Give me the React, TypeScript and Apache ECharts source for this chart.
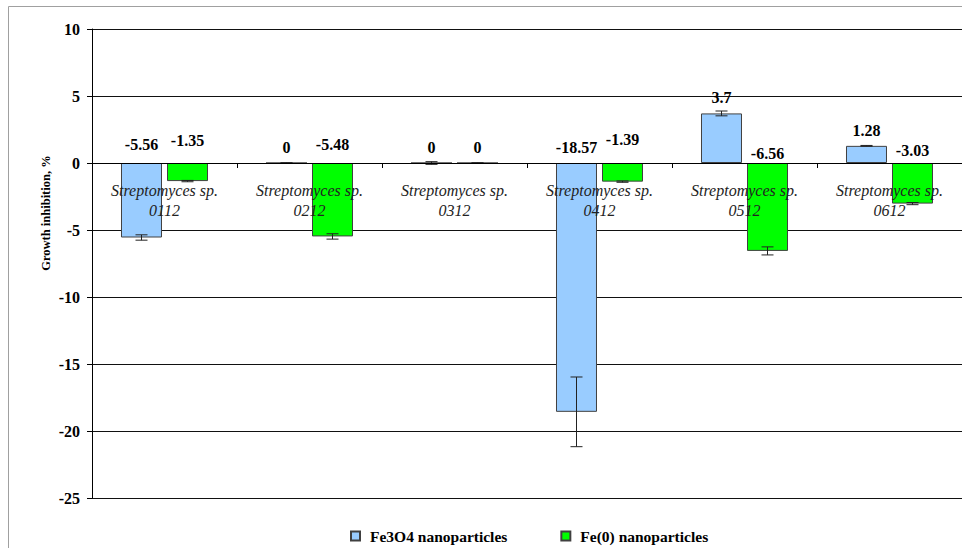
import React, { useEffect, useRef } from "react";
import * as echarts from "echarts";

const categories = [
  "Streptomyces sp.\n0112",
  "Streptomyces sp.\n0212",
  "Streptomyces sp.\n0312",
  "Streptomyces sp.\n0412",
  "Streptomyces sp.\n0512",
  "Streptomyces sp.\n0612",
];
const fe3o4Values = [-5.56, 0, 0, -18.57, 3.7, 1.28];
const fe0Values = [-1.35, -5.48, 0, -1.39, -6.56, -3.03];
const fe3o4Errors = [0.2, 0.02, 0.1, 2.6, 0.18, 0.03];
const fe0Errors = [0.05, 0.2, 0.02, 0.05, 0.3, 0.08];
const seriesNames = ["Fe3O4 nanoparticles", "Fe(0) nanoparticles"];
const yAxisTitle = "Growth inhibition, %";
const yTicks = { min: -25, max: 10, interval: 5 };

// style: small vertical nudges of the value labels (px)
const fe3o4LabelNudge = [6, 2, 2, 3, 3, 2];
const fe0LabelNudge = [10, 6, 2, 11, -3, 0];

const SERIF = "Liberation Serif";
const BAR_W = 41;
const BAR_GAP = 5;
const GRID = { left: 92, top: 29, width: 884, height: 469 };

function errorSeries(values: number[], errors: number[], dir: number) {
  return {
    type: "custom",
    z: 5,
    silent: true,
    data: values.map((v, i) => [i, v, errors[i]]),
    encode: { x: 0, y: 1 },
    renderItem: (params: any, api: any) => {
      const idx = api.value(0);
      const v = api.value(1);
      const e = api.value(2);
      const off = (dir * (BAR_W + BAR_GAP)) / 2;
      const c = api.coord([idx, v]);
      const x = c[0] + off;
      const yTop = api.coord([idx, v + e])[1];
      const yBot = api.coord([idx, v - e])[1];
      const style = { stroke: "#222", lineWidth: 1 };
      return {
        type: "group",
        children: [
          { type: "line", shape: { x1: x, y1: yTop, x2: x, y2: yBot }, style },
          { type: "line", shape: { x1: x - 6, y1: yTop, x2: x + 6, y2: yTop }, style },
          { type: "line", shape: { x1: x - 6, y1: yBot, x2: x + 6, y2: yBot }, style },
        ],
      };
    },
  };
}

function barSeries(name: string, values: number[], color: string, nudge: number[]) {
  return {
    name,
    type: "bar",
    barWidth: BAR_W,
    barGap: ((BAR_GAP / BAR_W) * 100).toFixed(1) + "%",
    itemStyle: { color, borderColor: "#404040", borderWidth: 1 },
    data: values.map((v, i) => ({
      value: v,
      label: { distance: 5 + nudge[i] },
    })),
    label: {
      show: true,
      position: "top",
      fontFamily: SERIF,
      fontWeight: "bold",
      fontSize: 16,
      color: "#000",
      formatter: (p: any) => String(p.value),
    },
  };
}

export default function App() {
  const ref = useRef<HTMLDivElement>(null);
  useEffect(() => {
    if (!ref.current) return;
    const chart = echarts.init(ref.current, null, { renderer: "svg" });
    // lift the label axis from the grid bottom up to the value 0 line
    const zeroLift = ((0 - yTicks.min) / (yTicks.max - yTicks.min)) * GRID.height;
    chart.setOption({
      animation: false,
      backgroundColor: "#fff",
      textStyle: { fontFamily: SERIF },
      graphic: [
        {
          type: "rect",
          shape: { x: 8.5, y: 6.5, width: 1000, height: 600 },
          style: { fill: "none", stroke: "#a0a0a0", lineWidth: 1 },
          silent: true,
        },
        {
          type: "text",
          x: 46,
          y: 213,
          rotation: Math.PI / 2,
          style: {
            text: yAxisTitle,
            fontFamily: SERIF,
            fontWeight: "bold",
            fontSize: 12.5,
            fill: "#000",
            align: "center",
            verticalAlign: "middle",
          },
          silent: true,
        },
      ],
      grid: GRID,
      legend: {
        left: 345,
        top: 523,
        itemWidth: 9,
        itemHeight: 9,
        itemGap: 53,
        icon: "rect",
        textStyle: {
          fontFamily: SERIF,
          fontWeight: "bold",
          fontSize: 15.5,
          color: "#000",
          padding: [0, 0, 0, 5],
        },
        data: seriesNames,
      },
      xAxis: [
        {
          type: "category",
          data: categories,
          z: 6,
          axisLine: { onZero: true, lineStyle: { color: "#000", width: 1 } },
          axisTick: { show: true, length: 5, interval: 0, lineStyle: { color: "#000" } },
          axisLabel: { show: false },
        },
        {
          type: "category",
          data: categories,
          position: "bottom",
          offset: -zeroLift,
          z: 6,
          axisLine: { show: false, onZero: false },
          axisTick: { show: false },
          axisLabel: {
            interval: 0,
            margin: 17,
            fontFamily: SERIF,
            fontStyle: "italic",
            fontSize: 16,
            lineHeight: 20,
            color: "#222",
          },
        },
      ],
      yAxis: {
        type: "value",
        min: yTicks.min,
        max: yTicks.max,
        interval: yTicks.interval,
        axisLine: { show: true, lineStyle: { color: "#000", width: 1 } },
        axisTick: { show: true, length: 5, lineStyle: { color: "#000" } },
        axisLabel: {
          fontFamily: SERIF,
          fontWeight: "bold",
          fontSize: 16,
          color: "#000",
          margin: 12,
        },
        splitLine: { show: true, lineStyle: { color: "#111", width: 1 } },
      },
      series: [
        barSeries(seriesNames[0], fe3o4Values, "#99CCFF", fe3o4LabelNudge),
        barSeries(seriesNames[1], fe0Values, "#00FF00", fe0LabelNudge),
        errorSeries(fe3o4Values, fe3o4Errors, -1),
        errorSeries(fe0Values, fe0Errors, 1),
      ],
    });
    return () => chart.dispose();
  }, []);
  return (
    <div
      ref={ref}
      style={{ position: "absolute", left: 0, top: 0, width: 962, height: 548 }}
    />
  );
}
